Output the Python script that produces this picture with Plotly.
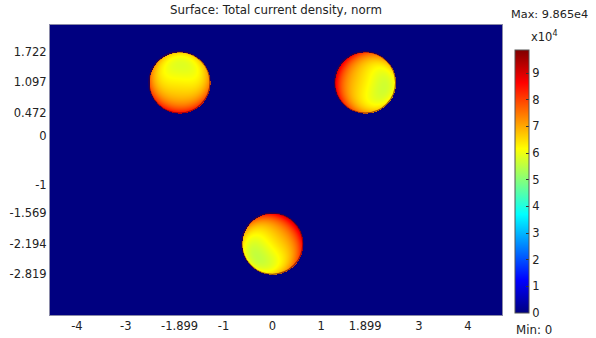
import numpy as np
import plotly.graph_objects as go

# Conductor cross-sections (three-phase bundle) and their current-density profiles
centre_x = [-1.899, 1.899, 0.0]
centre_y = [1.097, 1.097, -2.194]
radius = [0.625, 0.625, 0.625]
j_centre = [6.3e4, 6.3e4, 6.3e4]      # density at the conductor axis
j_rim = [1.4e4, 1.4e4, 1.4e4]         # extra density at the rim (skin effect)
j_swing = [1.05e4, 1.3e4, 1.5e4]      # one-sided increase toward the hot side (proximity effect)
hot_angle_deg = [265.0, 165.0, 40.0]  # direction of the hot side

j_max = 9.865e4
j_min = 0.0

x_range = [-4.55, 4.70]
y_range = [-3.65, 2.27]

x_ticks = [-4, -3, -1.899, -1, 0, 1, 1.899, 3, 4]
x_tick_text = ["-4", "-3", "-1.899", "-1", "0", "1", "1.899", "3", "4"]
y_ticks = [1.722, 1.097, 0.472, 0, -1, -1.569, -2.194, -2.819]
y_tick_text = ["1.722", "1.097", "0.472", "0", "-1", "-1.569", "-2.194", "-2.819"]
cbar_ticks = [0, 1e4, 2e4, 3e4, 4e4, 5e4, 6e4, 7e4, 8e4, 9e4]
cbar_tick_text = ["0", "1", "2", "3", "4", "5", "6", "7", "8", "9"]

# Sample the surface on a grid about one cell per screen pixel
gx = np.linspace(x_range[0], x_range[1], 453)
gy = np.linspace(y_range[0], y_range[1], 291)
X, Y = np.meshgrid(gx, gy)
Z = np.zeros_like(X)
for cx, cy, r, a, b, c, ang in zip(centre_x, centre_y, radius, j_centre, j_rim,
                                    j_swing, hot_angle_deg):
    dx, dy = X - cx, Y - cy
    rho = np.hypot(dx, dy) / r
    theta = np.arctan2(dy, dx)
    field = a + b * rho ** 4 + c * rho * np.cos(theta - np.radians(ang))
    Z = np.where(rho <= 1.0, field, Z)
Z = np.round(Z)

jet = [
    [0.0, "rgb(0,0,128)"],
    [0.125, "rgb(0,0,255)"],
    [0.375, "rgb(0,255,255)"],
    [0.625, "rgb(255,255,0)"],
    [0.875, "rgb(255,0,0)"],
    [1.0, "rgb(128,0,0)"],
]

FONT = "DejaVu Sans"
TXT = "#222222"

# plot area in pixels: x 50..502, y 25..315
def px_x(p):
    return (p - 50) / 452

def px_y(p):
    return (315 - p) / 290

fig = go.Figure()
fig.add_trace(go.Heatmap(
    x=gx, y=gy, z=Z,
    zmin=j_min, zmax=j_max,
    colorscale=jet,
    zsmooth=False,
    hoverinfo="skip",
    colorbar=dict(
        x=px_x(515), xanchor="left",
        y=px_y(313), yanchor="bottom",
        len=263 / 290, lenmode="fraction",
        thickness=14, thicknessmode="pixels",
        xpad=0, ypad=0,
        outlinewidth=1, outlinecolor="#555555",
        tickmode="array", tickvals=cbar_ticks, ticktext=cbar_tick_text,
        ticks="inside", ticklen=3, tickcolor="#333333",
        tickfont=dict(family=FONT, size=11.5, color=TXT),
    ),
))

# Dark rim of each conductor
for cx, cy, r in zip(centre_x, centre_y, radius):
    fig.add_shape(type="circle", xref="x", yref="y",
                  x0=cx - r, x1=cx + r, y0=cy - r, y1=cy + r,
                  line=dict(color="rgba(90,0,20,0.6)", width=1.3))

axis_common = dict(
    showgrid=False, zeroline=False,
    showline=True, linecolor="#8a8aa8", linewidth=1, mirror=True,
    ticks="", tickfont=dict(family=FONT, size=11.5, color=TXT),
    tickmode="array", automargin=False,
)

fig.update_layout(
    width=596, height=338,
    margin=dict(l=50, r=94, t=25, b=23, autoexpand=False),
    paper_bgcolor="white", plot_bgcolor="rgb(0,0,128)",
    showlegend=False,
    title=dict(text="Surface: Total current density, norm",
               x=0.5, xref="paper", xanchor="center",
               y=1 - 10 / 338, yref="container", yanchor="middle",
               font=dict(family=FONT, size=11.8, color=TXT)),
    xaxis=dict(range=x_range, tickvals=x_ticks, ticktext=x_tick_text, **axis_common),
    yaxis=dict(range=y_range, tickvals=y_ticks, ticktext=y_tick_text, **axis_common),
    annotations=[
        dict(text="Max: 9.865e4", xref="paper", yref="paper",
             x=px_x(509), y=px_y(14), xanchor="left", yanchor="middle",
             showarrow=False, font=dict(family=FONT, size=11.3, color=TXT)),
        dict(text="x10<sup>4</sup>", xref="paper", yref="paper",
             x=px_x(529), y=px_y(37), xanchor="left", yanchor="middle",
             showarrow=False, font=dict(family=FONT, size=11.5, color=TXT)),
        dict(text="Min: 0", xref="paper", yref="paper",
             x=px_x(514), y=px_y(330), xanchor="left", yanchor="middle",
             showarrow=False, font=dict(family=FONT, size=11.8, color=TXT)),
    ],
)

fig.write_html("out.html")
